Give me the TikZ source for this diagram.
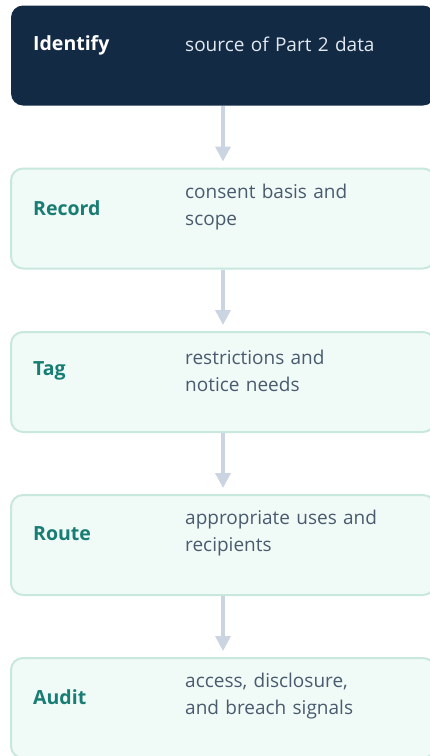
\documentclass[tikz,border=0pt]{standalone}
\usepackage{fontspec}
\setmainfont{Open Sans}
\usetikzlibrary{arrows.meta}
\definecolor{navy}{HTML}{132A44}
\definecolor{navytext}{HTML}{E2E8F0}
\definecolor{mintfill}{HTML}{F0FAF7}
\definecolor{mintline}{HTML}{C8E8DE}
\definecolor{teal}{HTML}{187D73}
\definecolor{slate}{HTML}{4A5B6E}
\definecolor{arrowgray}{HTML}{CBD5E1}
\tikzset{
  stagebox/.style={rounded corners=12pt, minimum width=424pt, minimum height=100pt, inner sep=0pt},
  darkbox/.style={stagebox, fill=navy},
  lightbox/.style={stagebox, fill=mintfill, draw=mintline, line width=2pt},
  titletext/.style={anchor=west, inner sep=0pt, font=\fontsize{19.5}{24}\selectfont\bfseries},
  desctext/.style={anchor=west, inner sep=0pt, align=left, text width=230pt, font=\fontsize{19}{27}\selectfont},
  flow/.style={draw=arrowgray, line width=3.5pt, -{Triangle[width=15pt,length=15pt]}, shorten >=6pt}
}
\begin{document}
\begin{tikzpicture}[x=1pt,y=-1pt]
\useasboundingbox (0,0) rectangle (429,756);
% step boxes
\node[darkbox]  (b1) at (223,55.5) {};
\node[lightbox] (b2) at (223,218.5) {};
\node[lightbox] (b3) at (223,382) {};
\node[lightbox] (b4) at (223,545) {};
\node[lightbox] (b5) at (223,708) {};
% labels
\node[titletext, white] (t1) at (33,45) {Identify};
\node[desctext, navytext] (d1) at (185,44) {source of Part 2 data};
\node[titletext, teal] (t2) at (33,208) {Record};
\node[desctext, slate] (d2) at (185,207.5) {consent basis and\\scope};
\node[titletext, teal] (t3) at (33,371) {Tag};
\node[desctext, slate] (d3) at (185,370.5) {restrictions and\\notice needs};
\node[titletext, teal] (t4) at (33,534) {Route};
\node[desctext, slate] (d4) at (185,533.5) {appropriate uses and\\recipients};
\node[titletext, teal] (t5) at (33,697) {Audit};
\node[desctext, slate] (d5) at (185,696.5) {access, disclosure,\\and breach signals};
% connectors
\draw[flow] (b1.south) -- (b2.north);
\draw[flow] (b2.south) -- (b3.north);
\draw[flow] (b3.south) -- (b4.north);
\draw[flow] (b4.south) -- (b5.north);
\end{tikzpicture}
\end{document}
